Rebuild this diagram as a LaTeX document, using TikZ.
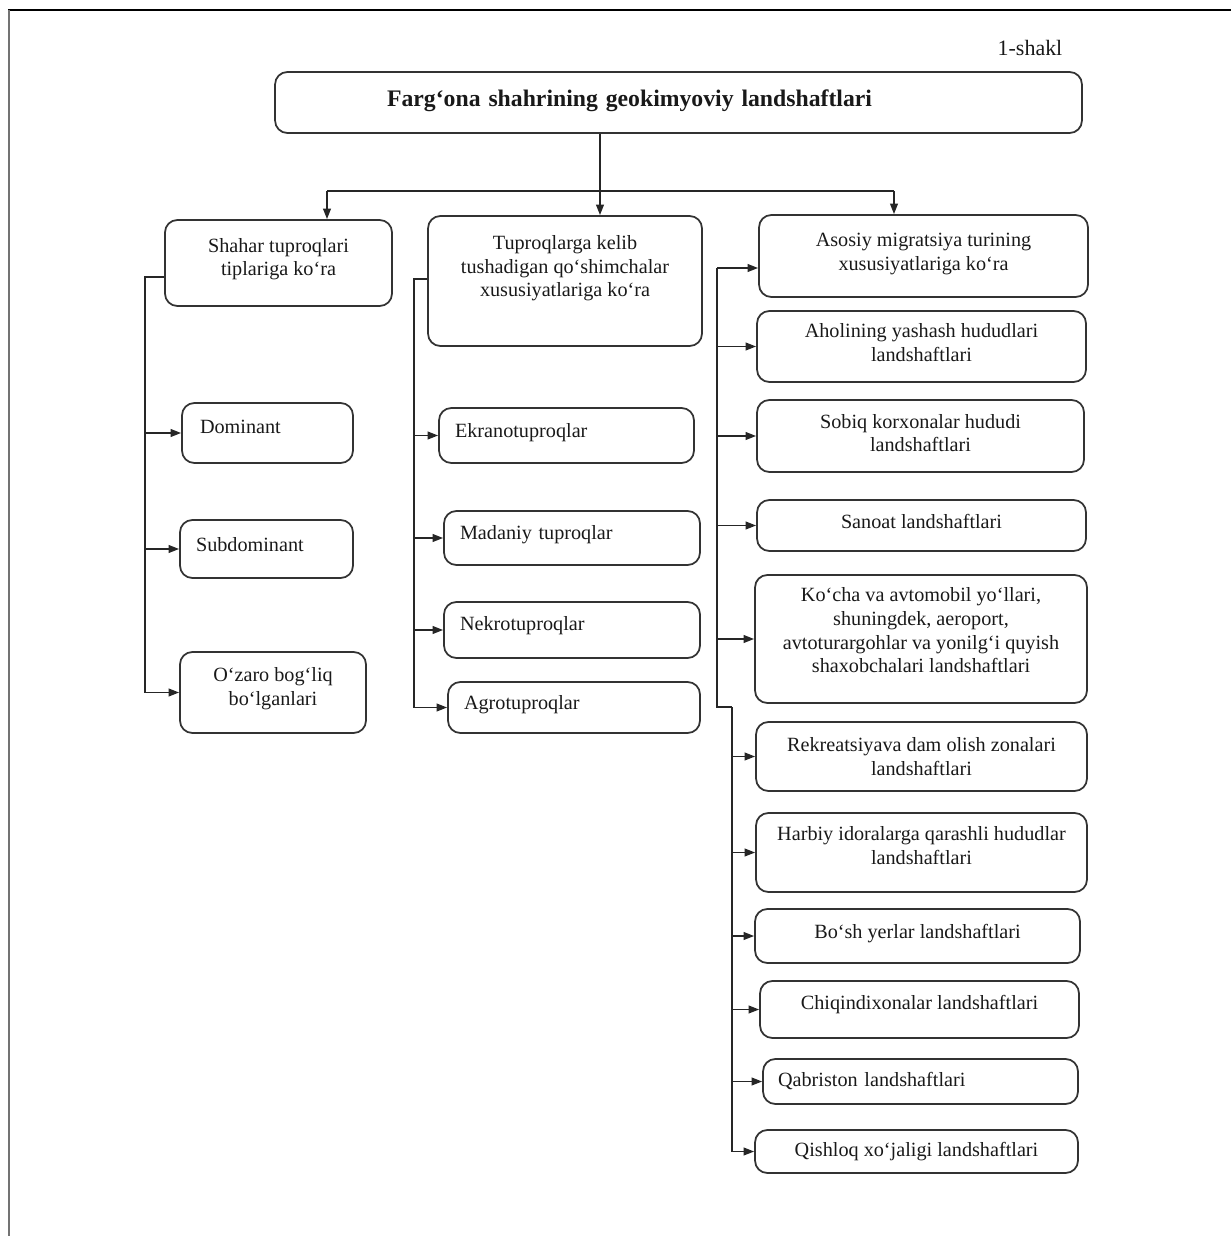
\documentclass[tikz,border=0pt]{standalone}
\usepackage{fontspec}
\setmainfont{Liberation Serif}
\usetikzlibrary{arrows.meta}

\begin{document}
\begin{tikzpicture}[x=0.02cm,y=-0.02cm,line width=1pt,
    every node/.style={draw=black!80,rounded corners=7pt,align=center,inner sep=3pt,text=black!90,font=\fontsize{11.5}{13.6}\selectfont},
    lft/.style={align=left},
    lift/.style={text depth=#1},
    link/.style={draw=black!85},
    tip/.style={black!85,line width=1pt,-{Triangle[length=6pt,width=4.4pt]}},
    conn/.style={draw=black!85,-{Triangle[length=6pt,width=4.4pt]}}]
                \useasboundingbox (0,0) rectangle (1231,1236);
                \draw[line width=1.4pt] (8,10) -- (1231,10);
                \draw[black!55,line width=1.2pt] (9,10) -- (9,1236);

                \node[draw=none,font=\fontsize{12.5}{15}\selectfont] (shakl) at (1030,48) {1-shakl};
                \node[lft,font=\fontsize{13.5}{16}\selectfont\bfseries,text width=11.66cm,inner xsep=2.24cm,minimum height=1.22cm,lift=5.1pt] (title) at (678.5,102.5) {Farg‘ona shahrining geokimyoviy landshaftlari};

                % chap ustun
                \node[minimum width=4.54cm,minimum height=1.72cm,lift=6.8pt] (shahar) at (278.5,263) {Shahar tuproqlari\\tiplariga ko‘ra};
                \node[lft,text width=2.7cm,inner xsep=0.36cm,minimum height=1.2cm,lift=6.8pt] (dominant) at (267.5,433) {Dominant};
                \node[lft,text width=2.82cm,inner xsep=0.32cm,minimum height=1.16cm,lift=5.7pt] (subdom) at (266.5,549) {Subdominant};
                \node[minimum width=3.72cm,minimum height=1.62cm,lift=6.8pt] (ozaro) at (273,692.5) {O‘zaro bog‘liq\\bo‘lganlari};

                % o'rta ustun
                \node[minimum width=5.48cm,minimum height=2.6cm,lift=17pt] (tuproq) at (565,281) {Tuproqlarga kelib\\tushadigan qo‘shimchalar\\xususiyatlariga ko‘ra};
                \node[lft,text width=4.46cm,inner xsep=0.32cm,minimum height=1.1cm,lift=5.7pt] (ekrano) at (566.5,435.5) {Ekranotuproqlar};
                \node[lft,text width=4.48cm,inner xsep=0.32cm,minimum height=1.08cm,lift=6.8pt] (madaniy) at (572,538) {Madaniy tuproqlar};
                \node[lft,text width=4.48cm,inner xsep=0.32cm,minimum height=1.12cm,lift=7.9pt] (nekro) at (572,630) {Nekrotuproqlar};
                \node[lft,text width=4.4cm,inner xsep=0.32cm,minimum height=1.02cm,lift=5.7pt] (agro) at (574,707.5) {Agrotuproqlar};

                % o'ng ustun
                \node[minimum width=6.58cm,minimum height=1.64cm,lift=4.5pt] (asosiy) at (923.5,256) {Asosiy migratsiya turining\\xususiyatlariga ko‘ra};
                \node[minimum width=6.58cm,minimum height=1.42cm,lift=4.5pt] (aholi) at (921.5,346.5) {Aholining yashash hududlari\\landshaftlari};
                \node[minimum width=6.54cm,minimum height=1.44cm,lift=3.4pt] (sobiq) at (920.5,436) {Sobiq korxonalar hududi\\landshaftlari};
                \node[minimum width=6.58cm,minimum height=1.02cm,lift=4.5pt] (sanoat) at (921.5,525.5) {Sanoat landshaftlari};
                \node[minimum width=6.64cm,minimum height=2.56cm,lift=10.2pt] (kocha) at (921,639) {Ko‘cha va avtomobil yo‘llari,\\shuningdek, aeroport,\\avtoturargohlar va yonilg‘i quyish\\shaxobchalari landshaftlari};
                \node[minimum width=6.62cm,minimum height=1.38cm] (rekr) at (921.5,756.5) {Rekreatsiyava dam olish zonalari\\landshaftlari};
                \node[minimum width=6.62cm,minimum height=1.58cm,lift=7.9pt] (harbiy) at (921.5,852.5) {Harbiy idoralarga qarashli hududlar\\landshaftlari};
                \node[minimum width=6.5cm,minimum height=1.08cm,lift=5.7pt] (bosh) at (917.5,936) {Bo‘sh yerlar landshaftlari};
                \node[minimum width=6.38cm,minimum height=1.14cm,lift=7.9pt] (chiqindi) at (919.5,1009.5) {Chiqindixonalar landshaftlari};
                \node[lft,text width=5.7cm,inner xsep=0.3cm,minimum height=0.9cm] (qabr) at (920.5,1081.5) {Qabriston landshaftlari};
                \node[minimum width=6.46cm,minimum height=0.86cm] (qishloq) at (916.5,1151.5) {Qishloq xo‘jaligi landshaftlari};

                \coordinate (jc) at (600,191);
                \coordinate (jl) at (327,191);
                \coordinate (jr) at (894,191);
                \coordinate (tl) at (145,277);
                \coordinate (tm) at (414,279);
                \coordinate (tr) at (717,268);
                \coordinate (tb) at (732,707);

                \draw[conn] (title.south -| jc) -- (tuproq.north -| jc);
                \draw[link] (jl) -- (jr);
                \draw[conn] (jl) -- (jl |- shahar.north);
                \draw[conn] (jr) -- (jr |- asosiy.north);

                \draw[conn] (shahar.west |- tl) -- (tl) |- (ozaro.west);
                \path[tip] (tl |- dominant.west) edge (dominant.west);
                \path[tip] (tl |- subdom.west) edge (subdom.west);

                \draw[conn] (tuproq.west |- tm) -- (tm) |- (agro.west);
                \path[tip] (tm |- ekrano.west) edge (ekrano.west);
                \path[tip] (tm |- madaniy.west) edge (madaniy.west);
                \path[tip] (tm |- nekro.west) edge (nekro.west);

                \draw[conn] (tr) -- (tr -| asosiy.west);
                \draw[link] (tr) -- (tr |- tb) -- (tb);
                \draw[conn] (tb) |- (qishloq.west);
                \path[tip] (tr |- aholi.west) edge (aholi.west);
                \path[tip] (tr |- sobiq.west) edge (sobiq.west);
                \path[tip] (tr |- sanoat.west) edge (sanoat.west);
                \path[tip] (tr |- kocha.west) edge (kocha.west);
                \path[tip] (tb |- rekr.west) edge (rekr.west);
                \path[tip] (tb |- harbiy.west) edge (harbiy.west);
                \path[tip] (tb |- bosh.west) edge (bosh.west);
                \path[tip] (tb |- chiqindi.west) edge (chiqindi.west);
                \path[tip] (tb |- qabr.west) edge (qabr.west);
            \end{tikzpicture}
\end{document}
